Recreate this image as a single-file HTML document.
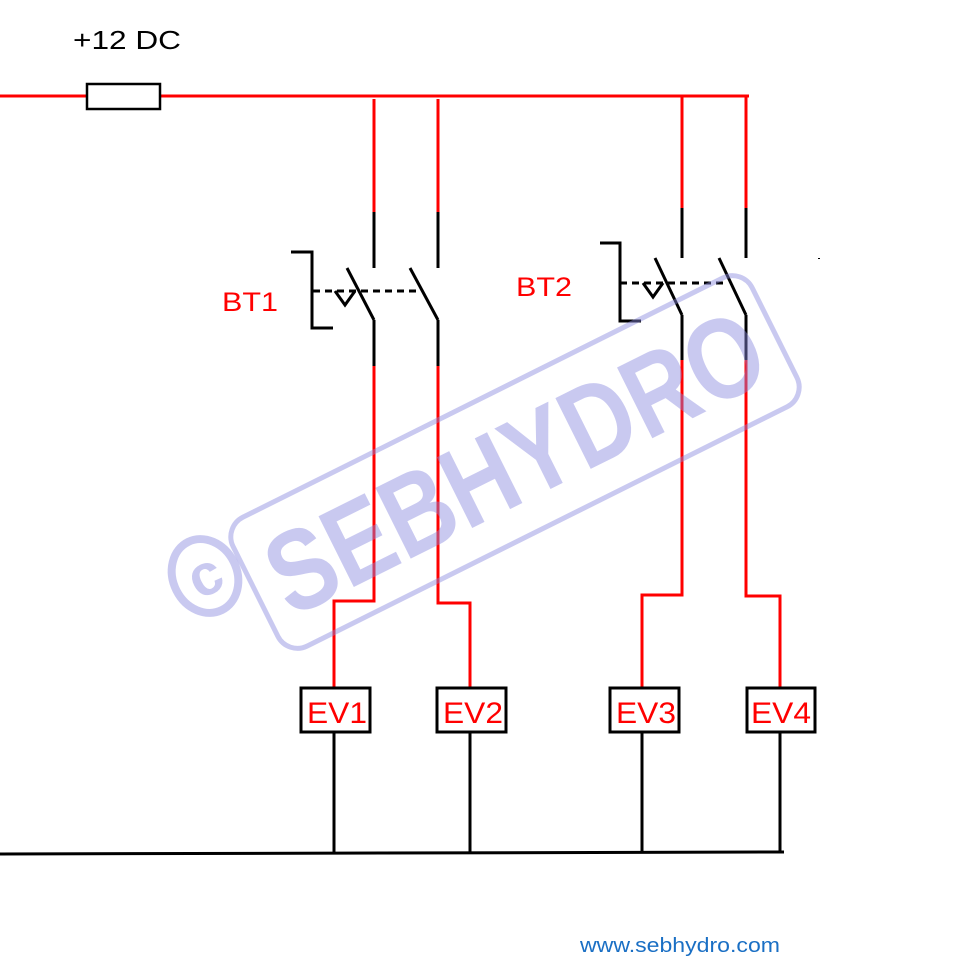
<!DOCTYPE html>
<html><head><meta charset="utf-8"><style>html,body{margin:0;padding:0;background:#fff}svg{display:block}</style></head>
<body>
<svg width="976" height="976" viewBox="0 0 976 976" xmlns="http://www.w3.org/2000/svg" font-family="Liberation Sans, sans-serif">
<rect width="976" height="976" fill="#fff"/>
<text x="73" y="49" font-size="26" fill="#000" textLength="108" lengthAdjust="spacingAndGlyphs">+12 DC</text>
<g stroke="#f00" stroke-width="3" fill="none">
<line x1="0" y1="96" x2="749" y2="96"/>
<line x1="374" y1="99" x2="374" y2="212"/>
<line x1="438" y1="99" x2="438" y2="212"/>
<line x1="682" y1="96" x2="682" y2="208"/>
<line x1="746" y1="96" x2="746" y2="208"/>
<polyline points="374,366 374,601 334,601 334,688"/>
<polyline points="438,366 438,603 470,603 470,688"/>
<polyline points="682,360 682,595 642,595 642,688"/>
<polyline points="746,360 746,596 780,596 780,688"/>
</g>
<rect x="87" y="84" width="73" height="25" fill="#fff" stroke="#000" stroke-width="2.5"/>
<g stroke="#000" stroke-width="3" fill="none">
<line x1="374" y1="212" x2="374" y2="268"/>
<line x1="438" y1="212" x2="438" y2="268"/>
<line x1="347" y1="268" x2="374" y2="320"/>
<line x1="410" y1="268" x2="438" y2="320"/>
<line x1="374" y1="320" x2="374" y2="366"/>
<line x1="438" y1="320" x2="438" y2="366"/>
<polyline points="291,252 312,252 312,328 333,328"/>
<polyline points="335,291 345,305 355,291"/>
<line x1="313" y1="291" x2="420" y2="291" stroke-dasharray="7,5"/>
<line x1="682" y1="208" x2="682" y2="258"/>
<line x1="746" y1="208" x2="746" y2="258"/>
<line x1="655" y1="258" x2="682" y2="315"/>
<line x1="719" y1="258" x2="746" y2="315"/>
<line x1="682" y1="315" x2="682" y2="360"/>
<line x1="746" y1="315" x2="746" y2="360"/>
<polyline points="600,243 620,243 620,321 641,321"/>
<polyline points="643,283 653,297 663,283"/>
<line x1="620" y1="283" x2="728" y2="283" stroke-dasharray="7,5"/>
<line x1="334" y1="733" x2="334" y2="853"/>
<line x1="470" y1="733" x2="470" y2="853"/>
<line x1="642" y1="733" x2="642" y2="853"/>
<line x1="780" y1="733" x2="780" y2="853"/>
<line x1="0" y1="854" x2="784" y2="852"/>
</g>
<g stroke="#000" stroke-width="3" fill="#fff">
<rect x="301" y="688" width="69" height="44"/>
<rect x="437" y="688" width="69" height="44"/>
<rect x="610" y="688" width="69" height="44"/>
<rect x="747" y="688" width="68" height="44"/>
</g>
<g fill="#f00" font-size="30">
<text x="307" y="723" textLength="60" lengthAdjust="spacingAndGlyphs">EV1</text>
<text x="443" y="723" textLength="60" lengthAdjust="spacingAndGlyphs">EV2</text>
<text x="616" y="723" textLength="60" lengthAdjust="spacingAndGlyphs">EV3</text>
<text x="751" y="723" textLength="60" lengthAdjust="spacingAndGlyphs">EV4</text>
<text x="222" y="311" font-size="27" textLength="56" lengthAdjust="spacingAndGlyphs">BT1</text>
<text x="516" y="296" font-size="27" textLength="56" lengthAdjust="spacingAndGlyphs">BT2</text>
</g>
<g transform="translate(515,462) rotate(-26.5)" opacity="0.45">
<rect x="-290" y="-72" width="580" height="144" rx="22" fill="none" stroke="#8a8ae0" stroke-width="5"/>
<text x="0" y="40" text-anchor="middle" font-size="115" font-weight="bold" fill="#8a8ae0" textLength="540" lengthAdjust="spacingAndGlyphs">SEBHYDRO</text>
</g>
<g opacity="0.45" transform="translate(205,576) rotate(-26.5)">
<ellipse cx="0" cy="0" rx="32" ry="38" fill="none" stroke="#8a8ae0" stroke-width="8"/>
<text x="0" y="19" text-anchor="middle" font-size="58" font-weight="bold" fill="#8a8ae0">c</text>
</g>
<text x="580" y="952" font-size="20" fill="#1a6fc4" textLength="200" lengthAdjust="spacingAndGlyphs">www.sebhydro.com</text>
<rect x="818" y="258" width="2" height="1" fill="#000"/>
</svg>
</body></html>
